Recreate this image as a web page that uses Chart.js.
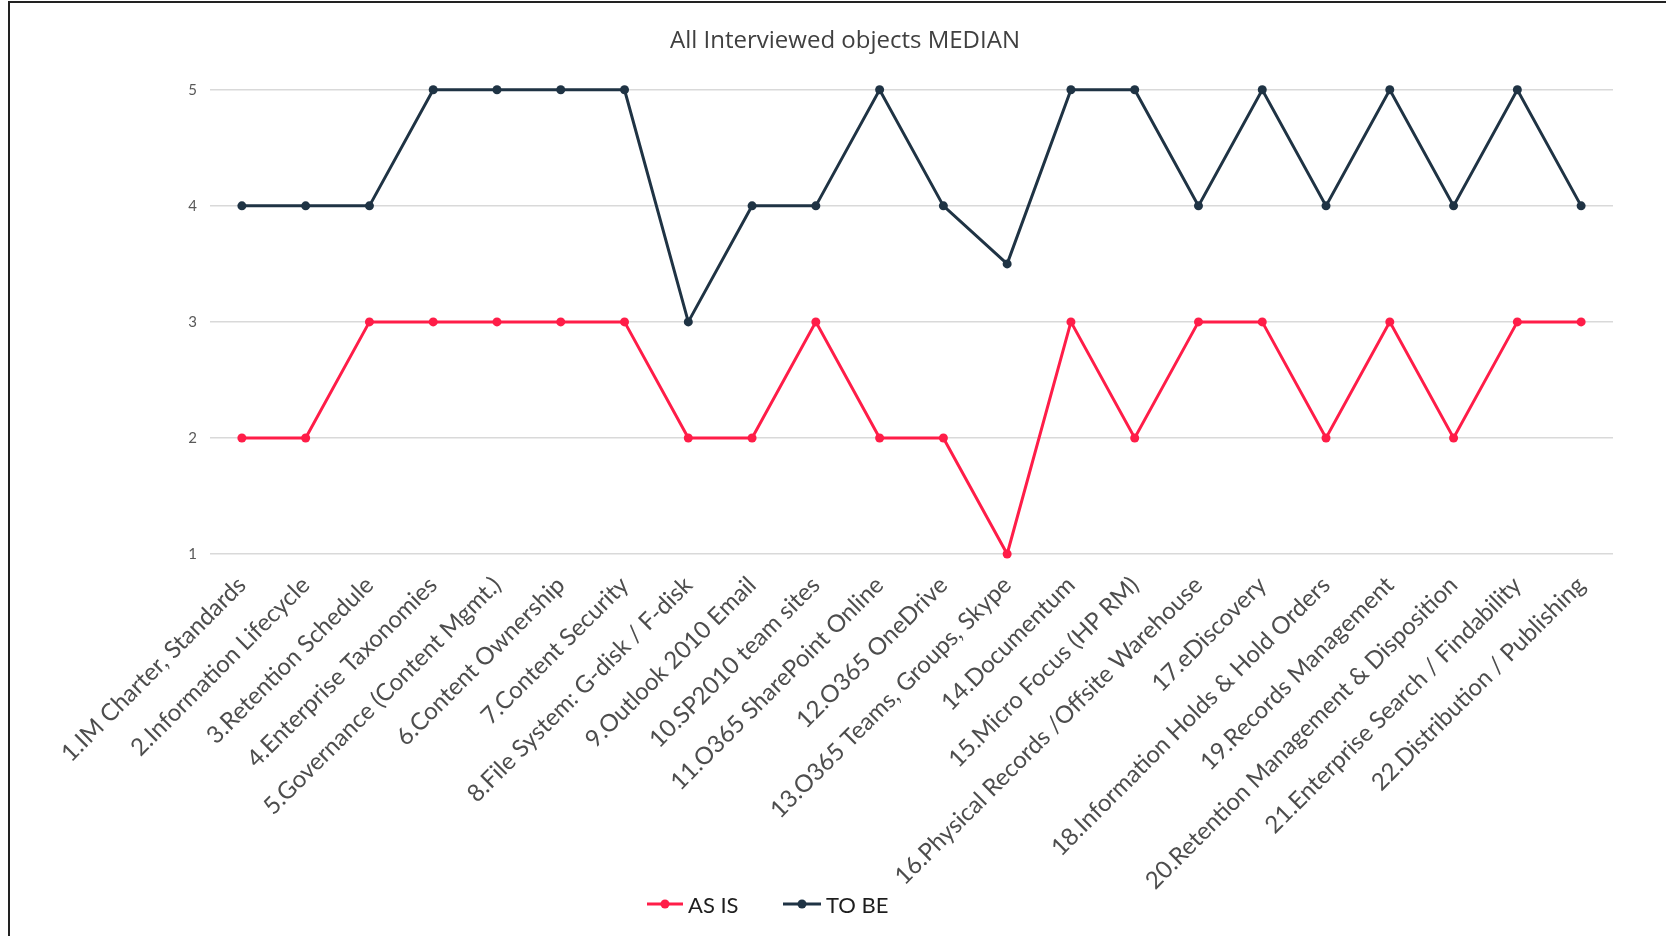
<!DOCTYPE html>
<html>
<head>
<meta charset="utf-8">
<script src="https://cdn.jsdelivr.net/npm/chart.js@4.4.1/dist/chart.umd.min.js"></script>
<style>
  html, body { margin: 0; padding: 0; background: #fff; width: 1666px; height: 936px; overflow: hidden; }
  #frame { position: absolute; left: 8px; top: 1px; width: 1700px; height: 1000px;
           border-left: 2px solid #222; border-top: 2px solid #222; }
  #wrap { position: absolute; left: 10px; top: 3px; width: 1670px; height: 933px; }
  #legend { position: absolute; left: 0; top: 890px; height: 28px; width: 1666px; font-family: Lato, sans-serif; font-size: 22px; color: #1e1e1e; }
  .item { position: absolute; top: 0; height: 28px; display: flex; align-items: center; }
  .item svg { display: block; margin-right: 5px; }
</style>
</head>
<body>
<div id="frame"></div>
<div id="wrap"><canvas id="c" width="1670" height="933"></canvas></div>
<div id="legend">
  <div class="item" style="left:647px"><svg width="36" height="12"><line x1="0" y1="6" x2="36" y2="6" stroke="#ff1d48" stroke-width="3"/><circle cx="18" cy="6" r="4.5" fill="#ff1d48"/></svg><span>AS IS</span></div>
  <div class="item" style="left:783px"><svg width="38" height="12"><line x1="0" y1="6" x2="38" y2="6" stroke="#1f3344" stroke-width="3"/><circle cx="19" cy="6" r="4.5" fill="#1f3344"/></svg><span>TO BE</span></div>
</div>
<script>
const categories = [
  "1.IM Charter, Standards",
  "2.Information Lifecycle",
  "3.Retention Schedule",
  "4.Enterprise Taxonomies",
  "5.Governance (Content Mgmt.)",
  "6.Content Ownership",
  "7.Content Security",
  "8.File System: G-disk / F-disk",
  "9.Outlook 2010 Email",
  "10.SP2010 team sites",
  "11.O365 SharePoint Online",
  "12.O365 OneDrive",
  "13.O365 Teams, Groups, Skype",
  "14.Documentum",
  "15.Micro Focus (HP RM)",
  "16.Physical Records /Offsite Warehouse",
  "17.eDiscovery",
  "18.Information Holds & Hold Orders",
  "19.Records Management",
  "20.Retention Management & Disposition",
  "21.Enterprise Search / Findability",
  "22.Distribution / Publishing"
];
const asIs = [2,2,3,3,3,3,3,2,2,3,2,2,1,3,2,3,3,2,3,2,3,3];
const toBe = [4,4,4,5,5,5,5,3,4,4,5,4,3.5,5,5,4,5,4,5,4,5,4];
const yTicks = [1,2,3,4,5];
const titleText = "All Interviewed objects MEDIAN";

const RED = "#ff1d48", DARK = "#1f3344";

new Chart(document.getElementById("c"), {
  type: "line",
  data: {
    labels: categories,
    datasets: [
      { label: "AS IS", data: asIs, borderColor: RED, backgroundColor: RED, borderWidth: 3,
        pointRadius: 4.5, pointBackgroundColor: RED, pointBorderWidth: 0, tension: 0, clip: false },
      { label: "TO BE", data: toBe, borderColor: DARK, backgroundColor: DARK, borderWidth: 3,
        pointRadius: 4.5, pointBackgroundColor: DARK, pointBorderWidth: 0, tension: 0, clip: false }
    ]
  },
  options: {
    responsive: false,
    animation: false,
    devicePixelRatio: 1,
    layout: { padding: 0 },
    plugins: {
      legend: { display: false },
      tooltip: { enabled: false },
      title: {
        display: true, text: titleText, color: "#404040",
        font: { family: "'Open Sans'", size: 24, weight: "normal", lineHeight: 1.2 },
        padding: { top: 24, bottom: 34 }
      }
    },
    scales: {
      x: {
        offset: true,
        grid: { display: false, drawTicks: false },
        border: { display: false },
        afterFit: (s) => { s.height = 382; },
        ticks: {
          autoSkip: false, minRotation: 45, maxRotation: 45, padding: 17,
          color: "#4d4d4d", font: { family: "Lato", size: 24 }
        }
      },
      y: {
        min: 1, max: 5,
        afterFit: (s) => { s.width = 200; },
        afterBuildTicks: (s) => { s.ticks = yTicks.map(v => ({ value: v })); },
        grid: { color: "#d9d9d9", lineWidth: 1.5, drawTicks: false },
        border: { display: false },
        ticks: { padding: 13, color: "#595959", font: { family: "Lato", size: 15 } }
      },
      yRightSpace: {
        type: "linear", position: "right", display: true,
        afterFit: (s) => { s.width = 67; },
        grid: { display: false, drawTicks: false },
        border: { display: false },
        ticks: { display: false }
      }
    }
  }
});
</script>
</body>
</html>
